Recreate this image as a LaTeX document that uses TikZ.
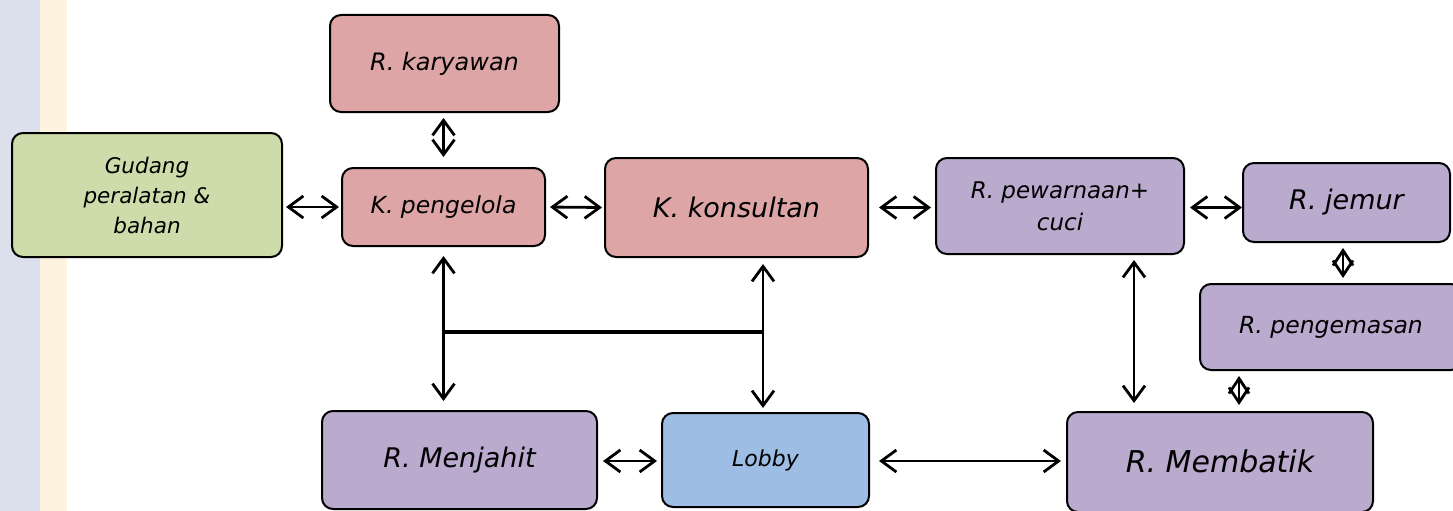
\documentclass[tikz,border=0pt]{standalone}
\usepackage{fontspec}
\setmainfont{DejaVu Sans}
\usetikzlibrary{arrows.meta}

\definecolor{pinkbox}{RGB}{221,165,166}
\definecolor{greenbox}{RGB}{205,220,170}
\definecolor{purplebox}{RGB}{185,170,206}
\definecolor{bluebox}{RGB}{157,189,228}
\definecolor{stripblue}{RGB}{220,224,236}
\definecolor{stripcream}{RGB}{253,243,222}

\newcommand{\fs}[2]{\itshape\fontsize{#1}{#2}\selectfont}

\tikzset{
  room/.style={draw=black, line width=2pt, rounded corners=11pt,
    inner sep=0pt, align=center, font=\fs{23.5}{28}},
  pinkroom/.style={room, fill=pinkbox},
  greenroom/.style={room, fill=greenbox},
  purproom/.style={room, fill=purplebox},
  blueroom/.style={room, fill=bluebox},
  link/.style={line width=2.8pt, {Straight Barb[length=15pt,width=22pt]}-{Straight Barb[length=15pt,width=22pt]}},
  shortlink/.style={line width=2.8pt, {Straight Barb[length=15pt,width=20pt]}-{Straight Barb[length=15pt,width=20pt]}},
  bar/.style={line width=3.6pt},
}

\begin{document}
\begin{tikzpicture}[x=1pt,y=-1pt]
  \useasboundingbox (0,0) rectangle (1453,511);
  \clip (0,0) rectangle (1453,511);

  % side strips
  \fill[stripblue] (0,0) rectangle (40,511);
  \fill[stripcream] (40,0) rectangle (67,511);

  % rooms
  \node[pinkroom, minimum width=229pt, minimum height=97pt, font=\fs{24}{28}] (kary) at (444.5,63.5) {\raisebox{4pt}{R. karyawan}};
  \node[pinkroom, minimum width=203pt, minimum height=78pt] (peng) at (443.5,207) {\raisebox{-2pt}{K. pengelola}};
  \node[greenroom, minimum width=270pt, minimum height=124pt,
        font=\fs{21.5}{30}] (gud) at (147,195) {\raisebox{0pt}{}Gudang\\peralatan \&\\bahan};
  \node[pinkroom, minimum width=263pt, minimum height=99pt,
        font=\fs{27}{30}] (kons) at (736.5,207.5) {K. konsultan};
  \node[purproom, minimum width=248pt, minimum height=96pt,
        font=\fs{23}{32}] (pew) at (1060,206) {R. pewarnaan+\\cuci};
  \node[purproom, minimum width=207pt, minimum height=79pt,
        font=\fs{27}{30}] (jem) at (1346.5,202.5) {R. jemur};
  \node[purproom, minimum width=262pt, minimum height=86pt] (kem) at (1331,327) {R. pengemasan};
  \node[purproom, minimum width=306pt, minimum height=100pt,
        font=\fs{30}{34}] (bat) at (1220,462) {\raisebox{2pt}{R. Membatik}};
  \node[purproom, minimum width=275pt, minimum height=98pt,
        font=\fs{27}{30}] (jah) at (459.5,460) {R. Menjahit};
  \node[blueroom, minimum width=207pt, minimum height=94pt,
        font=\fs{22}{26}] (lob) at (765.5,460) {Lobby};

  % connector columns
  \coordinate (kx) at (763,0);
  \coordinate (wx) at (1134,0);
  \coordinate (ex) at (1343,0);
  \coordinate (mx) at (1239,0);
  \coordinate (jl) at (443.5,332);
  \coordinate (jr) at (763,332);
  \coordinate (by) at (0,461);

  % top row
  \draw[link, shorten <=5pt, shorten >=10pt] (kary.south -| peng.north) -- (peng.north);
  \draw[link, shorten <=3pt, shorten >=2pt] (gud.east |- peng.west) -- (peng.west);
  \draw[link, shorten <=4pt, shorten >=2pt] (peng.east) -- (kons.west);
  \draw[link, shorten <=10pt, shorten >=4pt] (kons.east) -- (kons.east -| pew.west);
  \draw[link, shorten <=5pt, shorten >=0pt] (pew.east |- kons.east) -- (jem.west |- kons.east);

  % right column
  \draw[shortlink, shorten <=5pt, shorten >=5pt] (jem.south -| ex) -- (kem.north -| ex);
  \draw[shortlink, shorten <=5pt, shorten >=6pt] (kem.south -| mx) -- (bat.north -| mx);
  \draw[link, shorten <=5pt, shorten >=8pt] (pew.south -| wx) -- (bat.north -| wx);

  % centre connectors
  \draw[link, shorten <=9pt, shorten >=9pt] (peng.south) -- (peng.south |- jah.north);
  \draw[link, shorten <=6pt, shorten >=4pt] (kons.south -| kx) -- (lob.north -| kx);
  \draw[bar] (jl) -- (jr);

  % bottom row
  \draw[link, shorten <=5pt, shorten >=4pt] (jah.east |- by) -- (lob.west |- by);
  \draw[link, shorten <=9pt, shorten >=5pt] (lob.east |- by) -- (bat.west |- by);
\end{tikzpicture}
\end{document}
